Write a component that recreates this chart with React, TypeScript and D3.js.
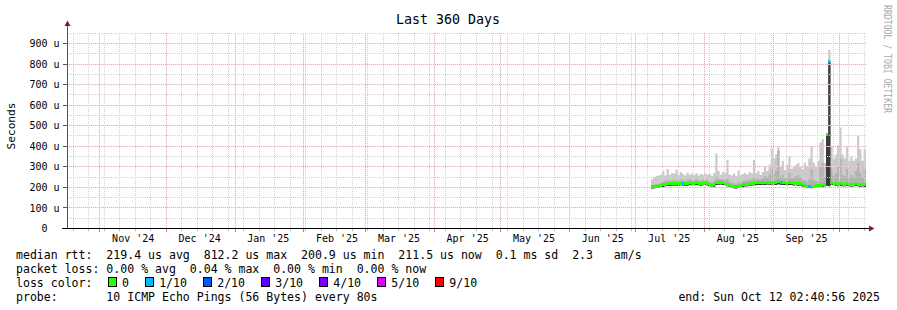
import React from "react";
import * as d3 from "d3";

const DAY = 86400000;
const endTime = Date.UTC(2025, 9, 12, 2, 40, 56);
const startTime = endTime - 360 * DAY;
const axisSpanDays = 361.2;
const seriesStartDay = 263.7;

const titleText = "Last 360 Days";
const yAxisTitle = "Seconds";
const watermark = "RRDTOOL / TOBI OETIKER";

const medianRtt = [
  203, 204, 205, 206, 208, 212, 216, 218, 217, 219,
  220, 218, 219, 221, 220, 218, 219, 222, 220, 221,
  223, 220, 218, 221, 222, 219, 214, 208, 212, 222,
  224, 225, 222, 220, 216, 210, 205, 204, 203, 205,
  208, 212, 214, 216, 218, 219, 220, 222, 223, 222,
  224, 223, 225, 224, 226, 224, 222, 228, 224, 222,
  223, 221, 222, 224, 220, 221, 219, 220, 214, 210,
  206, 205, 204, 206, 208, 207, 210, 212, 215, 455,
  812, 225, 220, 218, 216, 217, 215, 216, 218, 215,
  214, 216, 218, 215, 213, 216, 212,
];
const smokeMin = [
  195, 196, 197, 198, 199, 202, 205, 207, 207, 208,
  209, 208, 208, 210, 209, 208, 208, 211, 210, 210,
  212, 210, 208, 210, 211, 209, 205, 200, 203, 211,
  213, 214, 212, 210, 206, 201, 197, 196, 195, 197,
  199, 202, 204, 206, 208, 209, 210, 211, 212, 211,
  213, 212, 214, 213, 214, 213, 211, 215, 213, 211,
  212, 210, 211, 213, 209, 210, 208, 209, 204, 201,
  198, 197, 196, 198, 199, 199, 201, 203, 205, 208,
  205, 214, 210, 208, 206, 207, 205, 206, 208, 205,
  204, 206, 207, 205, 203, 206, 202,
];
const smokeUpper = [
  212, 214, 216, 218, 220, 228, 232, 236, 230, 234,
  236, 232, 234, 240, 234, 232, 236, 240, 234, 236,
  240, 234, 232, 238, 240, 234, 230, 224, 230, 250,
  242, 240, 238, 236, 245, 228, 222, 220, 218, 222,
  225, 230, 232, 234, 236, 238, 250, 240, 242, 238,
  245, 255, 250, 260, 290, 265, 280, 380, 250, 260,
  245, 250, 270, 245, 250, 255, 260, 250, 240, 235,
  228, 240, 290, 235, 232, 230, 300, 320, 250, 455,
  812, 290, 260, 270, 300, 340, 260, 255, 290, 250,
  260, 250, 280, 320, 270, 250, 290,
];
const smokeMax = [
  240, 250, 255, 258, 262, 280, 258, 290, 262, 270,
  268, 286, 262, 275, 265, 258, 272, 262, 268, 260,
  270, 258, 265, 262, 268, 262, 265, 255, 270, 365,
  280, 262, 275, 270, 335, 262, 258, 268, 255, 282,
  260, 265, 270, 262, 275, 268, 335, 270, 280, 262,
  275, 300, 280, 310, 390, 340, 360, 395, 300, 330,
  285, 310, 350, 290, 300, 310, 320, 300, 290, 320,
  300, 340, 400, 320, 300, 330, 418, 435, 320, 455,
  870, 398, 340, 360, 405, 491, 360, 340, 395, 330,
  350, 330, 340, 449, 385, 330, 385,
];
const lossLevel = [
  0, 0, 0, 0, 0, 0, 0, 0, 0, 0,
  0, 0, 0, 0, 1, 0, 0, 0, 0, 0,
  0, 0, 0, 0, 0, 0, 0, 0, 0, 0,
  0, 0, 0, 0, 0, 0, 0, 0, 0, 0,
  0, 0, 0, 0, 0, 0, 0, 0, 0, 0,
  0, 0, 0, 0, 0, 0, 0, 0, 1, 0,
  0, 0, 0, 0, 0, 0, 0, 0, 0, 0,
  0, 1, 0, 0, 0, 0, 0, 0, 0, 0,
  1, 0, 0, 0, 0, 0, 0, 0, 0, 0,
  0, 0, 0, 0, 0, 0, 0,
];

const lossLabels = ["0", "1/10", "2/10", "3/10", "4/10", "5/10", "9/10"];
const lossColors = ["#26ff00", "#00b8ff", "#0059ff", "#5e00ff", "#7e00ff", "#dd00ff", "#ff0000"];

const yMajorTicks = [0, 100, 200, 300, 400, 500, 600, 700, 800, 900];
const yMinorTicks = [50, 150, 250, 350, 450, 550, 650, 750, 850, 950];

const legendRtt = "median rtt:  219.4 us avg  812.2 us max  200.9 us min  211.5 us now  0.1 ms sd  2.3   am/s";
const legendLoss = "packet loss: 0.00 % avg  0.04 % max  0.00 % min  0.00 % now";
const legendLossTitle = "loss color:";
const legendProbe = "probe:       10 ICMP Echo Pings (56 Bytes) every 80s";
const legendEnd = "end: Sun Oct 12 02:40:56 2025";

const MONO = "'DejaVu Sans Mono', 'Liberation Mono', monospace";

type Pt = { t: number; lo: number; med: number; up: number; hi: number };

export default function App() {
  const left = 67;
  const right = 867;
  const top = 33;
  const bottom = 228.5;
  const x = d3
    .scaleUtc()
    .domain([startTime, startTime + axisSpanDays * DAY])
    .range([left, right]);
  const y = d3.scaleLinear().domain([0, 950]).range([bottom, 33.2]);
  const crisp = (v: number) => Math.round(v - 0.5) + 0.5;

  const seriesStart = startTime + seriesStartDay * DAY;
  const pts: Pt[] = medianRtt.map((m, i) => ({
    t: seriesStart + i * DAY,
    lo: smokeMin[i],
    med: m,
    up: smokeUpper[i],
    hi: smokeMax[i],
  }));
  const last = pts[pts.length - 1];
  const ptsStep = [...pts, { ...last, t: last.t + DAY }];

  const band = (a: keyof Pt, b: keyof Pt) =>
    d3
      .area<Pt>()
      .x((d) => x(d.t))
      .y0((d) => y(d[a]))
      .y1((d) => y(d[b]))
      .curve(d3.curveStepAfter)(ptsStep) || "";

  const months = d3.utcMonth.range(startTime, endTime);
  const weeks = d3.utcSunday
    .range(startTime, startTime + axisSpanDays * DAY)
    .filter((w) => !months.some((m) => Math.abs(+m - +w) < DAY / 2));
  const monthLabels = d3.utcMonth
    .range(d3.utcMonth.floor(new Date(startTime)), new Date(endTime))
    .map((m) => d3.utcDay.offset(m, 15))
    .filter((d) => +d > startTime && +d < endTime);
  const fmt = d3.utcFormat("%b '%y");

  const charW = 6.96;
  const lossItems: { sx: number; lx: number; label: string; color: string }[] = [];
  let sx = 108;
  lossLabels.forEach((lab, i) => {
    const lx = sx + 14;
    lossItems.push({ sx, lx, label: lab, color: lossColors[i] });
    sx = lx + lab.length * charW + 16.2;
  });

  const majorH = yMajorTicks.filter((v) => v > 0);

  return (
    <svg
      width={897}
      height={310}
      style={{ position: "absolute", left: 0, top: 0, background: "#fff" }}
      fontFamily={MONO}
    >
      <rect x={0} y={0} width={897} height={310} fill="#fff" />
      <text x={448} y={24} textAnchor="middle" fontSize={13.3} fill="#000">
        {titleText}
      </text>

      {/* smoke */}
      <path d={band("lo", "hi")} fill="#cacaca" />
      <path d={band("lo", "up")} fill="#b2b2b2" />
      <path d={band("lo", "med")} fill="#3a3a3a" />

      {/* grid */}
      <g strokeWidth={1} shapeRendering="crispEdges">
        {yMinorTicks.map((v) => (
          <line key={"ym" + v} x1={left} x2={right} y1={crisp(y(v))} y2={crisp(y(v))} stroke="#d2d2d2" strokeDasharray="1 1" />
        ))}
        {weeks.map((w) => (
          <line key={"wk" + +w} x1={crisp(x(w))} x2={crisp(x(w))} y1={top} y2={bottom} stroke="#d2d2d2" strokeDasharray="1 1" />
        ))}
        {majorH.map((v) => (
          <line key={"yMb" + v} x1={left} x2={right} y1={crisp(y(v))} y2={crisp(y(v))} stroke="#ffe4e4" opacity={0.8} />
        ))}
        {months.map((m) => (
          <line key={"mob" + +m} x1={crisp(x(m))} x2={crisp(x(m))} y1={top} y2={bottom} stroke="#ffe4e4" opacity={0.8} />
        ))}
        {majorH.map((v) => (
          <line key={"yM" + v} x1={left} x2={right} y1={crisp(y(v))} y2={crisp(y(v))} stroke="#f4aaaa" strokeDasharray="1 1" />
        ))}
        {months.map((m) => (
          <line key={"mo" + +m} x1={crisp(x(m))} x2={crisp(x(m))} y1={top} y2={bottom} stroke="#f4aaaa" strokeDasharray="1 1" />
        ))}
      </g>

      {/* median line coloured by loss */}
      <g shapeRendering="crispEdges">
        {pts.map((p, i) => (
          <rect
            key={"md" + i}
            x={x(p.t)}
            width={x(p.t + DAY) - x(p.t)}
            y={y(p.med) - 1.5}
            height={3}
            fill={lossColors[lossLevel[i]]}
          />
        ))}
      </g>

      {/* axes */}
      <g shapeRendering="crispEdges">
        {yMajorTicks.map((v) => (
          <line key={"yt" + v} x1={63} x2={left} y1={crisp(y(v))} y2={crisp(y(v))} stroke="#555" />
        ))}
        {months.map((m) => (
          <line key={"mt" + +m} x1={crisp(x(m))} x2={crisp(x(m))} y1={bottom} y2={bottom + 3} stroke="#e07070" />
        ))}
        {weeks.map((w) => (
          <line key={"wt" + +w} x1={crisp(x(w))} x2={crisp(x(w))} y1={bottom} y2={bottom + 2} stroke="#bbb" />
        ))}
        <line x1={67.5} x2={67.5} y1={bottom} y2={25} stroke="#555" />
        <line x1={62} x2={870} y1={bottom} y2={bottom} stroke="#000" />
      </g>
      <path d="M64.5,26 L70.5,26 L67.5,20.5 Z" fill="#8b1a1a" />
      <path d="M869,225.5 L869,231.5 L874.5,228.5 Z" fill="#8b1a1a" />

      {/* y labels */}
      {yMajorTicks.map((v) => (
        <text
          key={"yl" + v}
          x={v === 0 ? 47.5 : 59.5}
          y={y(v) + 3.6}
          textAnchor="end"
          fontSize={10}
          fill="#000"
        >
          {v === 0 ? "0" : `${v} u`}
        </text>
      ))}

      {/* x labels */}
      {monthLabels.map((d) => (
        <text key={"xl" + +d} x={x(d)} y={241.5} textAnchor="middle" fontSize={10} fill="#000">
          {fmt(d)}
        </text>
      ))}

      <text
        transform="translate(15,126) rotate(-90)"
        textAnchor="middle"
        fontSize={11.2}
        fill="#000"
      >
        {yAxisTitle}
      </text>

      <text
        transform="translate(884,5) rotate(90)"
        fontSize={10.5}
        fill="#aaa"
        textLength={108}
        lengthAdjust="spacingAndGlyphs"
      >
        {watermark}
      </text>

      {/* legend */}
      <g fontSize={11.56} fill="#000" style={{ whiteSpace: "pre" }}>
        <text x={16} y={258.5} xmlSpace="preserve">{legendRtt}</text>
        <text x={16} y={272.5} xmlSpace="preserve">{legendLoss}</text>
        <text x={16} y={286.5} xmlSpace="preserve">{legendLossTitle}</text>
        {lossItems.map((it) => (
          <g key={"li" + it.label}>
            <rect x={it.sx + 0.5} y={277.5} width={8} height={9} fill={it.color} stroke="#000" strokeWidth={1} shapeRendering="crispEdges" />
            <text x={it.lx} y={286.5}>{it.label}</text>
          </g>
        ))}
        <text x={16} y={300.5} xmlSpace="preserve">{legendProbe}</text>
        <text x={880} y={300.5} textAnchor="end" xmlSpace="preserve">{legendEnd}</text>
      </g>
    </svg>
  );
}
